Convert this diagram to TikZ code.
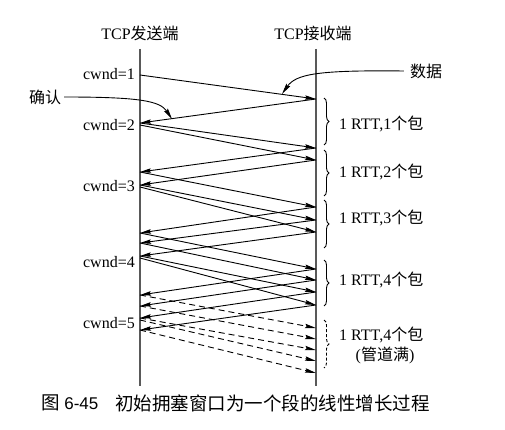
\documentclass[tikz,border=0pt]{standalone}
\usepackage{fontspec}
\setmainfont{Liberation Serif}
\newfontfamily\cjk{Noto Sans CJK SC}
\newfontfamily\capsans{Liberation Sans}
\usetikzlibrary{arrows.meta,decorations.pathreplacing}
\begin{document}
\begin{tikzpicture}[x=1pt,y=-1pt,
  lbl/.style={font=\fontsize{16}{18}\selectfont, inner sep=0pt},
  caplbl/.style={font=\fontsize{18.5}{20}\selectfont, inner sep=0pt, anchor=west},
  timeline/.style={draw=black!65, line width=1.4pt},
  msg/.style={line width=0.9pt, -{Stealth[length=11pt,width=4.4pt,inset=1.5pt]}},
  dmsg/.style={msg, dash pattern=on 6pt off 4pt},
  br/.style={decorate, decoration={brace,amplitude=5pt}, line width=0.9pt},
  dbr/.style={br, dash pattern=on 3pt off 2pt},
  pointer/.style={line width=0.9pt, -{Stealth[length=11pt,width=4.6pt,inset=1.5pt]}}
]
\useasboundingbox (0,0) rectangle (505,430);
% headers
\node[lbl] (snd) at (140,33) {TCP{\cjk 发送端}};
\node[lbl] (rcv) at (313,33) {TCP{\cjk 接收端}};
% timelines
\coordinate (stop) at (140,49); \coordinate (sbot) at (140,386);
\coordinate (rtop) at (316,49); \coordinate (rbot) at (316,386);
\draw[timeline] (stop) -- (sbot);
\draw[timeline] (rtop) -- (rbot);
% event points
\foreach \y in {75,123,125,172,185,187,233,243,256,258,295,306,318,320,330}
  \coordinate (S\y) at (140,\y);
\foreach \y in {99,148,160,207,220,232,269,280,292,305,328,339,350,361,373}
  \coordinate (R\y) at (316,\y);
% data segments
\foreach \a/\b in {75/99,123/148,125/160,172/207,185/220,187/232,233/269,243/280,256/292,258/305}
  \draw[msg] (S\a) -- (R\b);
% acknowledgements
\foreach \a/\b in {99/123,148/172,160/185,207/233,220/243,232/256,269/295,280/306,292/318,305/330}
  \draw[msg] (R\a) -- (S\b);
% dashed data segments
\foreach \a/\b in {295/328,306/339,318/350,320/361,330/373}
  \draw[dmsg] (S\a) -- (R\b);
% cwnd labels
\node[lbl, anchor=east] (c1) at (135,74) {cwnd=1};
\node[lbl, anchor=east] (c2) at (135,125) {cwnd=2};
\node[lbl, anchor=east] (c3) at (135,186) {cwnd=3};
\node[lbl, anchor=east] (c4) at (135,262) {cwnd=4};
\node[lbl, anchor=east] (c5) at (135,323) {cwnd=5};
% braces
\coordinate (b1t) at (324,98);  \coordinate (b1b) at (324,145);
\coordinate (b2t) at (324,150); \coordinate (b2b) at (324,196);
\coordinate (b3t) at (324,200); \coordinate (b3b) at (324,248);
\coordinate (b4t) at (324,260); \coordinate (b4b) at (324,306);
\coordinate (b5t) at (324,320); \coordinate (b5b) at (324,368);
\draw[br] (b1t) -- (b1b);
\draw[br] (b2t) -- (b2b);
\draw[br] (b3t) -- (b3b);
\draw[br] (b4t) -- (b4b);
\draw[dbr] (b5t) -- (b5b);
\node[lbl, anchor=west] (l1) at (339,124) {1 RTT,1{\cjk 个包}};
\node[lbl, anchor=west] (l2) at (339,172) {1 RTT,2{\cjk 个包}};
\node[lbl, anchor=west] (l3) at (339,218) {1 RTT,3{\cjk 个包}};
\node[lbl, anchor=west] (l4) at (339,280) {1 RTT,4{\cjk 个包}};
\node[lbl, anchor=west] (l5) at (339,335) {1 RTT,4{\cjk 个包}};
\node[lbl] (l5b) at (385,355) {({\cjk 管道满})};
% pointers
\node[lbl] (data) at (426,71) {\cjk 数据};
\coordinate (dtip) at (282,94);
\draw[pointer] ([xshift=-6pt]data.west) .. controls (318,70) and (296,74) .. (dtip);
\node[lbl] (ack) at (45,97) {\cjk 确认};
\coordinate (atip) at (172,119);
\draw[pointer] ([xshift=3pt]ack.east) .. controls (140,97) and (160,101) .. (atip);
% caption
\node[caplbl] (fignum) at (41,403) {{\cjk 图} {\capsans\fontsize{17}{20}\selectfont 6-45}};
\node[caplbl] (cap) at (115,403) {\cjk 初始拥塞窗口为一个段的线性增长过程};
\end{tikzpicture}
\end{document}
